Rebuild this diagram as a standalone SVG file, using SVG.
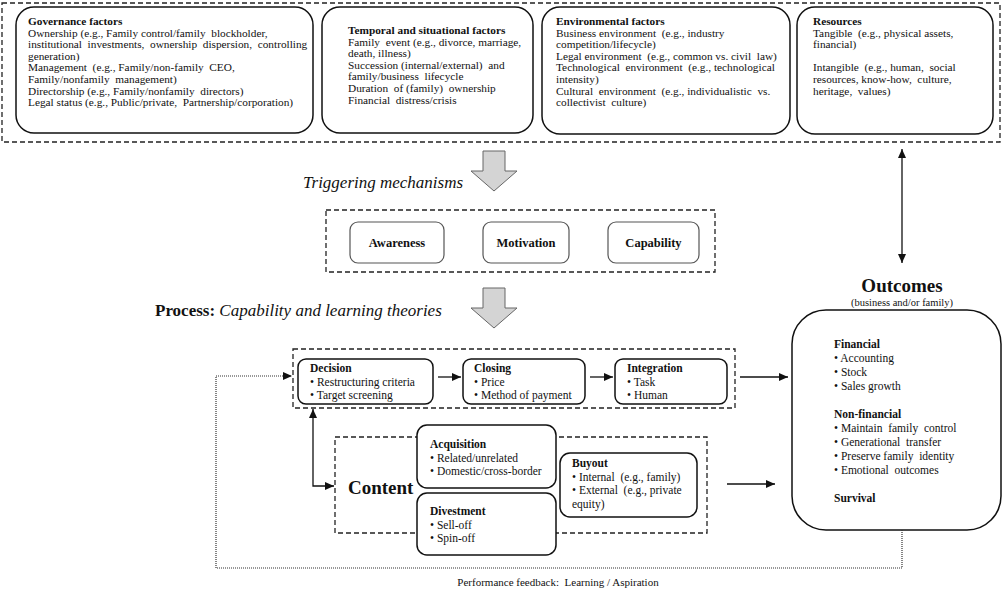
<svg xmlns="http://www.w3.org/2000/svg" width="1003" height="592" viewBox="0 0 1003 592">
<defs>
<style>
text{font-family:"Liberation Serif","Times New Roman",serif;fill:#111}
.t{font-size:11.3px}
.b{font-weight:bold}
.s{font-size:11.5px}
.box{fill:#fff;stroke:#111;stroke-width:1.5}
.tbox{fill:#fff;stroke:#555;stroke-width:1.2}
.dash{fill:none;stroke:#222;stroke-width:1.3;stroke-dasharray:5,3}
.line{fill:none;stroke:#111;stroke-width:1.3}
.dot{fill:none;stroke:#333;stroke-width:1.2;stroke-dasharray:1,1}
.garrow{fill:#d4d4d4;stroke:#666;stroke-width:1}
</style>
<marker id="ah" markerWidth="9" markerHeight="8" refX="9" refY="4" orient="auto" markerUnits="userSpaceOnUse">
<path d="M0,0 L9,4 L0,8 z" fill="#111"/>
</marker>
<marker id="ahs" markerWidth="9" markerHeight="8" refX="0" refY="4" orient="auto" markerUnits="userSpaceOnUse">
<path d="M9,0 L0,4 L9,8 z" fill="#111"/>
</marker>
</defs>
<rect width="1003" height="592" fill="#fff"/>

<g id="antecedents">
<rect class="dash" x="2" y="3" width="998" height="139"/>
</g>

<g id="governance">
<rect class="box" x="16" y="7" width="297" height="126" rx="18"/>
<text class="t" x="28" y="25" xml:space="preserve"><tspan class="b">Governance factors</tspan>
<tspan x="28" dy="11.6">Ownership (e.g., Family control/family  blockholder,</tspan>
<tspan x="28" dy="11.6">institutional  investments,  ownership  dispersion,  controlling</tspan>
<tspan x="28" dy="11.6">generation)</tspan>
<tspan x="28" dy="11.6">Management  (e.g., Family/non-family  CEO,</tspan>
<tspan x="28" dy="11.6">Family/nonfamily  management)</tspan>
<tspan x="28" dy="11.6">Directorship (e.g., Family/nonfamily  directors)</tspan>
<tspan x="28" dy="11.6">Legal status (e.g., Public/private,  Partnership/corporation)</tspan></text>
</g>

<g id="temporal">
<rect class="box" x="322" y="7" width="211" height="126" rx="18"/>
<text class="t" x="348" y="34" xml:space="preserve"><tspan class="b">Temporal and situational factors</tspan>
<tspan x="348" dy="11.6">Family  event (e.g., divorce, marriage,</tspan>
<tspan x="348" dy="11.6">death, illness)</tspan>
<tspan x="348" dy="11.6">Succession (internal/external)  and</tspan>
<tspan x="348" dy="11.6">family/business  lifecycle</tspan>
<tspan x="348" dy="11.6">Duration  of (family)  ownership</tspan>
<tspan x="348" dy="11.6">Financial  distress/crisis</tspan></text>
</g>

<g id="environmental">
<rect class="box" x="542" y="7" width="248" height="127" rx="18"/>
<text class="t" x="556" y="25" xml:space="preserve"><tspan class="b">Environmental factors</tspan>
<tspan x="556" dy="11.6">Business environment  (e.g., industry</tspan>
<tspan x="556" dy="11.6">competition/lifecycle)</tspan>
<tspan x="556" dy="11.6">Legal environment  (e.g., common vs. civil  law)</tspan>
<tspan x="556" dy="11.6">Technological  environment  (e.g., technological</tspan>
<tspan x="556" dy="11.6">intensity)</tspan>
<tspan x="556" dy="11.6">Cultural  environment  (e.g., individualistic  vs.</tspan>
<tspan x="556" dy="11.6">collectivist  culture)</tspan></text>
</g>

<g id="resources">
<rect class="box" x="797" y="7" width="196" height="127" rx="18"/>
<text class="t" x="813" y="25" xml:space="preserve"><tspan class="b">Resources</tspan>
<tspan x="813" dy="11.6">Tangible  (e.g., physical assets,</tspan>
<tspan x="813" dy="11.6">financial)</tspan>
<tspan x="813" dy="23.2">Intangible  (e.g., human,  social</tspan>
<tspan x="813" dy="11.6">resources, know-how,  culture,</tspan>
<tspan x="813" dy="11.6">heritage,  values)</tspan></text>
</g>

<g id="arrow-trigger">
<polygon class="garrow" points="483,151 505,151 505,171 517,171 494,191 471,171 483,171"/>
<text x="303" y="188" style="font-size:17px;font-style:italic">Triggering mechanisms</text>
</g>

<g id="triggering">
<rect class="dash" x="326" y="210" width="389" height="62"/>
<g id="awareness"><rect class="tbox" x="350" y="222" width="94" height="41" rx="8"/>
<text x="397" y="247" text-anchor="middle" class="b" style="font-size:12.5px">Awareness</text></g>
<g id="motivation"><rect class="tbox" x="483" y="222" width="86" height="41" rx="8"/>
<text x="526" y="247" text-anchor="middle" class="b" style="font-size:12.5px">Motivation</text></g>
<g id="capability"><rect class="tbox" x="608" y="222" width="91" height="41" rx="8"/>
<text x="653.5" y="247" text-anchor="middle" class="b" style="font-size:12.5px">Capability</text></g>
</g>

<g id="arrow-process">
<polygon class="garrow" points="483,288 505,288 505,308 517,308 494,328 471,308 483,308"/>
<text x="155" y="316" style="font-size:17px"><tspan class="b">Process:</tspan> <tspan style="font-style:italic">Capability and learning theories</tspan></text>
</g>

<g id="process">
<rect class="dash" x="293" y="349" width="442" height="59"/>
<g id="decision"><rect class="box" x="298" y="359" width="135" height="45" rx="8"/>
<text class="s" x="310" y="372"><tspan class="b">Decision</tspan>
<tspan x="310" dy="13.5">• Restructuring criteria</tspan>
<tspan x="310" dy="13.5">• Target screening</tspan></text></g>
<g id="closing"><rect class="box" x="463" y="359" width="122" height="45" rx="8"/>
<text class="s" x="474" y="372"><tspan class="b">Closing</tspan>
<tspan x="474" dy="13.5">• Price</tspan>
<tspan x="474" dy="13.5">• Method of payment</tspan></text></g>
<g id="integration"><rect class="box" x="615" y="359" width="112" height="45" rx="8"/>
<text class="s" x="627" y="372"><tspan class="b">Integration</tspan>
<tspan x="627" dy="13.5">• Task</tspan>
<tspan x="627" dy="13.5">• Human</tspan></text></g>
</g>

<g id="content">
<rect class="dash" x="335" y="437" width="372" height="96"/>
<text x="348" y="494" class="b" style="font-size:19px">Content</text>
<g id="acquisition"><rect class="box" x="417" y="425" width="139" height="63" rx="10"/>
<text class="s" x="430" y="448"><tspan class="b">Acquisition</tspan>
<tspan x="430" dy="13.5">• Related/unrelated</tspan>
<tspan x="430" dy="13.5">• Domestic/cross-border</tspan></text></g>
<g id="divestment"><rect class="box" x="417" y="493" width="139" height="62" rx="10"/>
<text class="s" x="430" y="515"><tspan class="b">Divestment</tspan>
<tspan x="430" dy="13.5">• Sell-off</tspan>
<tspan x="430" dy="13.5">• Spin-off</tspan></text></g>
<g id="buyout"><rect class="box" x="560" y="453" width="137" height="64" rx="10"/>
<text class="s" x="572" y="467" xml:space="preserve"><tspan class="b">Buyout</tspan>
<tspan x="572" dy="13.7">• Internal  (e.g., family)</tspan>
<tspan x="572" dy="13.7">• External  (e.g., private</tspan>
<tspan x="572" dy="13.7">equity)</tspan></text></g>
</g>

<g id="outcomes">
<text x="902" y="292" text-anchor="middle" class="b" style="font-size:19px">Outcomes</text>
<text x="902" y="306" text-anchor="middle" style="font-size:10.5px">(business and/or family)</text>
<rect class="box" x="792" y="310" width="209" height="220" rx="34"/>
<text class="s" x="834" y="348" xml:space="preserve"><tspan class="b">Financial</tspan>
<tspan x="834" dy="14">• Accounting</tspan>
<tspan x="834" dy="14">• Stock</tspan>
<tspan x="834" dy="14">• Sales growth</tspan>
<tspan x="834" dy="28" class="b">Non-financial</tspan>
<tspan x="834" dy="14">• Maintain  family  control</tspan>
<tspan x="834" dy="14">• Generational  transfer</tspan>
<tspan x="834" dy="14">• Preserve family  identity</tspan>
<tspan x="834" dy="14">• Emotional  outcomes</tspan>
<tspan x="834" dy="28" class="b">Survival</tspan></text>
</g>

<g id="connectors">
<line class="line" x1="902" y1="149" x2="902" y2="263" marker-start="url(#ahs)" marker-end="url(#ah)"/>
<line class="line" x1="438" y1="377" x2="461" y2="377" marker-end="url(#ah)"/>
<line class="line" x1="590" y1="377" x2="613" y2="377" marker-end="url(#ah)"/>
<line class="line" x1="740" y1="377" x2="788" y2="377" marker-end="url(#ah)"/>
<line class="line" x1="727" y1="484" x2="775" y2="484" marker-end="url(#ah)"/>
<polyline class="line" points="313,409 313,486 334,486" marker-start="url(#ahs)" marker-end="url(#ah)"/>
<polyline class="dot" points="902,530 902,568 216,568 216,376 292,376" marker-end="url(#ah)"/>
<text x="558" y="586" text-anchor="middle" style="font-size:11px" xml:space="preserve">Performance feedback:  Learning / Aspiration</text>
</g>
</svg>
